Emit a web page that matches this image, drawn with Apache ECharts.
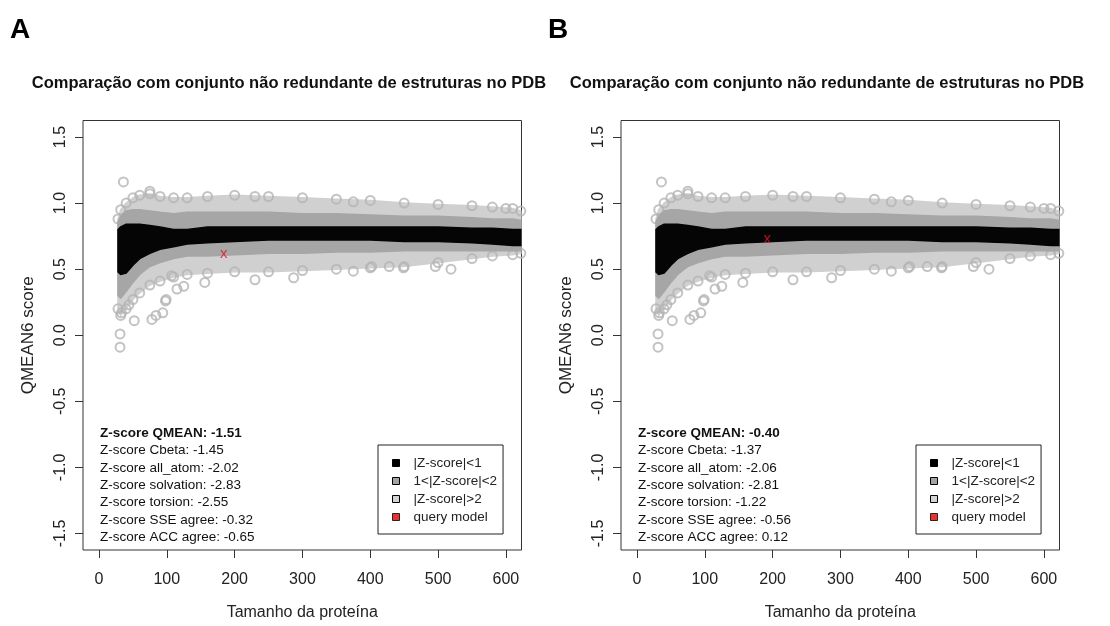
<!DOCTYPE html>
<html lang="pt">
<head>
<meta charset="UTF-8">
<title>QMEAN6 score</title>
<style>
  body { margin: 0; overflow: hidden; background: #fff; }
  #chart { width: 1110px; height: 626px; }
</style>
</head>
<body>
<div id="chart"></div>
<script src="https://cdn.jsdelivr.net/npm/echarts@6/dist/echarts.min.js"></script>
<script>
// tick labels
var xTicks = [0, 100, 200, 300, 400, 500, 600];
var yTicks = [-1.5, -1, -0.5, 0, 0.5, 1, 1.5];

// envelope of the reference cloud, protein size -> QMEAN6
var envX = [28, 32, 40, 50, 60, 75, 90, 110, 130, 160, 200, 250, 300, 350, 400, 450, 500, 550, 580, 610, 622];
var lgHi = [0.88, 0.95, 1.00, 1.04, 1.06, 1.07, 1.05, 1.04, 1.04, 1.05, 1.06, 1.05, 1.04, 1.03, 1.02, 1.00, 0.99, 0.98, 0.97, 0.96, 0.94];
var lgLo = [0.20, 0.15, 0.20, 0.27, 0.32, 0.38, 0.41, 0.44, 0.46, 0.47, 0.48, 0.48, 0.49, 0.50, 0.51, 0.52, 0.55, 0.58, 0.60, 0.61, 0.62];
var dgHi = [0.86, 0.90, 0.94, 0.95, 0.95, 0.94, 0.93, 0.92, 0.93, 0.93, 0.93, 0.93, 0.92, 0.92, 0.91, 0.90, 0.90, 0.89, 0.88, 0.88, 0.87];
var dgLo = [0.30, 0.28, 0.33, 0.40, 0.46, 0.52, 0.55, 0.58, 0.60, 0.60, 0.61, 0.62, 0.62, 0.63, 0.63, 0.64, 0.64, 0.64, 0.64, 0.64, 0.64];
var bkHi = [0.80, 0.82, 0.84, 0.84, 0.84, 0.83, 0.82, 0.80, 0.80, 0.82, 0.82, 0.82, 0.82, 0.82, 0.82, 0.82, 0.82, 0.81, 0.81, 0.80, 0.80];
var bkLo = [0.48, 0.46, 0.47, 0.53, 0.58, 0.62, 0.65, 0.67, 0.69, 0.70, 0.71, 0.72, 0.72, 0.72, 0.72, 0.71, 0.71, 0.70, 0.69, 0.68, 0.68];

// isolated points outside the dense cloud
var outliers = [
  [31, -0.09], [31, 0.01], [33, 0.17], [44, 0.23], [52, 0.11], [78, 0.12], [84, 0.15],
  [94, 0.17], [98, 0.26], [99, 0.27], [107, 0.45], [115, 0.35], [125, 0.37], [156, 0.40],
  [230, 0.42], [287, 0.435], [375, 0.485], [402, 0.52], [428, 0.52], [449, 0.51],
  [496, 0.52], [519, 0.50], [36, 1.16], [75, 1.09], [230, 1.05], [375, 1.01], [600, 0.96]
];

var queryA = [184, 0.615];
var queryB = [192, 0.73];

var statNames = ['Z-score QMEAN', 'Z-score Cbeta', 'Z-score all_atom', 'Z-score solvation',
  'Z-score torsion', 'Z-score SSE agree', 'Z-score ACC agree'];
var statsA = [-1.51, -1.45, -2.02, -2.83, -2.55, -0.32, -0.65];
var statsB = [-0.40, -1.37, -2.06, -2.81, -1.22, -0.56, 0.12];

var catNames = ['|Z-score|<1', '1<|Z-score|<2', '|Z-score|>2', 'query model'];
var catColors = ['#000000', '#a3a3a3', '#d4d4d4', '#e00000'];

var titleText = 'Comparação com conjunto não redundante de estruturas no PDB';
var FONT = '"Liberation Sans", Arial, Helvetica, sans-serif';

var panels = [
  { letter: 'A', left: 83, stats: statsA, query: queryA },
  { letter: 'B', left: 621, stats: statsB, query: queryB }
];

function band(name, idx, lo, hi, color, z) {
  return {
    type: 'custom',
    name: name,
    xAxisIndex: idx,
    yAxisIndex: idx,
    clip: true,
    z: z,
    silent: true,
    data: envX.map(function (x, i) { return [x, lo[i], hi[i]]; }),
    encode: { x: 0, y: [1, 2] },
    renderItem: function (params, api) {
      if (params.dataIndex !== 0) return null;
      var pts = [];
      for (var i = 0; i < envX.length; i++) pts.push(api.coord([envX[i], hi[i]]));
      for (var j = envX.length - 1; j >= 0; j--) pts.push(api.coord([envX[j], lo[j]]));
      return {
        type: 'polygon',
        shape: { points: pts },
        style: { fill: color, stroke: color, lineWidth: 1.5 }
      };
    }
  };
}

var grid = [], xAxis = [], yAxis = [], series = [], legend = [], graphic = [];

panels.forEach(function (p, idx) {
  grid.push({
    left: p.left, top: 120.5, width: 438.5, height: 431,
    show: true, borderColor: '#333', borderWidth: 1, backgroundColor: 'transparent'
  });
  xAxis.push({
    type: 'value', gridIndex: idx, min: -23.6, max: 623, position: 'bottom',
    name: 'Tamanho da proteína', nameLocation: 'middle', nameGap: 55,
    nameTextStyle: { fontFamily: FONT, fontSize: 16, color: '#222' },
    axisLine: { show: false, onZero: false },
    splitLine: { show: false },
    axisTick: { show: true, inside: false, customValues: xTicks, length: 8, lineStyle: { color: '#333' } },
    axisLabel: { customValues: xTicks, margin: 22, fontFamily: FONT, fontSize: 16, color: '#222' }
  });
  yAxis.push({
    type: 'value', gridIndex: idx, min: -1.625, max: 1.625, position: 'left',
    name: 'QMEAN6 score', nameLocation: 'middle', nameRotate: 90, nameGap: 46,
    nameTextStyle: { fontFamily: FONT, fontSize: 17, color: '#222' },
    axisLine: { show: false, onZero: false },
    splitLine: { show: false },
    axisTick: { show: true, inside: false, customValues: yTicks, length: 8, lineStyle: { color: '#333' } },
    axisLabel: {
      customValues: yTicks, rotate: 90, margin: 14, fontFamily: FONT, fontSize: 16, color: '#222',
      formatter: function (v) { return v.toFixed(1); }
    }
  });

  series.push(band(catNames[2], idx, lgLo, lgHi, '#d0d0d0', 1));
  series.push({
    type: 'scatter', name: catNames[2], xAxisIndex: idx, yAxisIndex: idx, z: 2, silent: true,
    symbol: 'circle', symbolSize: 9,
    itemStyle: { color: 'transparent', borderColor: '#b4b4b4', borderWidth: 2 },
    data: envX.map(function (x, i) { return [x, lgHi[i]]; })
      .concat(envX.map(function (x, i) { return [x, lgLo[i]]; }))
      .concat(outliers)
  });
  series.push(band(catNames[1], idx, dgLo, dgHi, '#a6a6a6', 3));
  series.push(band(catNames[0], idx, bkLo, bkHi, '#050505', 4));
  series.push({
    type: 'scatter', name: catNames[3], xAxisIndex: idx, yAxisIndex: idx, z: 6, silent: true,
    symbolSize: 1, itemStyle: { color: 'transparent' },
    label: { show: true, position: 'inside', formatter: 'x', color: '#e8102a', fontFamily: FONT, fontSize: 15 },
    data: [p.query]
  });

  legend.push({
    left: p.left + 295, top: 445, orient: 'vertical', selectedMode: false,
    borderColor: '#222', borderWidth: 1, borderRadius: 0,
    padding: [11, 6, 10, 14], itemWidth: 7, itemHeight: 7, itemGap: 4,
    textStyle: { fontFamily: FONT, fontSize: 13.5, color: '#222', padding: [0, 0, 0, 9] },
    data: catNames.map(function (n, i) {
      return { name: n, icon: 'rect', itemStyle: { color: catColors[i], borderColor: '#000', borderWidth: 1 } };
    })
  });

  graphic.push({
    type: 'text', left: p.left - 73, top: 16,
    style: { text: p.letter, font: 'bold 28px ' + FONT, fill: '#000' }
  });
  graphic.push({
    type: 'text', x: p.left + 206, y: 83,
    style: { text: titleText, font: 'bold 16.5px ' + FONT, fill: '#111', textAlign: 'center', textVerticalAlign: 'middle' }
  });
  p.stats.forEach(function (v, i) {
    graphic.push({
      type: 'text', x: p.left + 17, y: 433.3 + i * 17.35,
      style: {
        text: statNames[i] + ': ' + v.toFixed(2),
        font: (i === 0 ? 'bold ' : '') + '13.5px ' + FONT,
        fill: '#111', textVerticalAlign: 'middle'
      }
    });
  });
});

var chart = echarts.init(document.getElementById('chart'), null, { renderer: 'canvas' });
chart.setOption({
  backgroundColor: '#fff',
  animation: false,
  grid: grid,
  xAxis: xAxis,
  yAxis: yAxis,
  legend: legend,
  graphic: graphic,
  series: series
});
</script>
</body>
</html>
